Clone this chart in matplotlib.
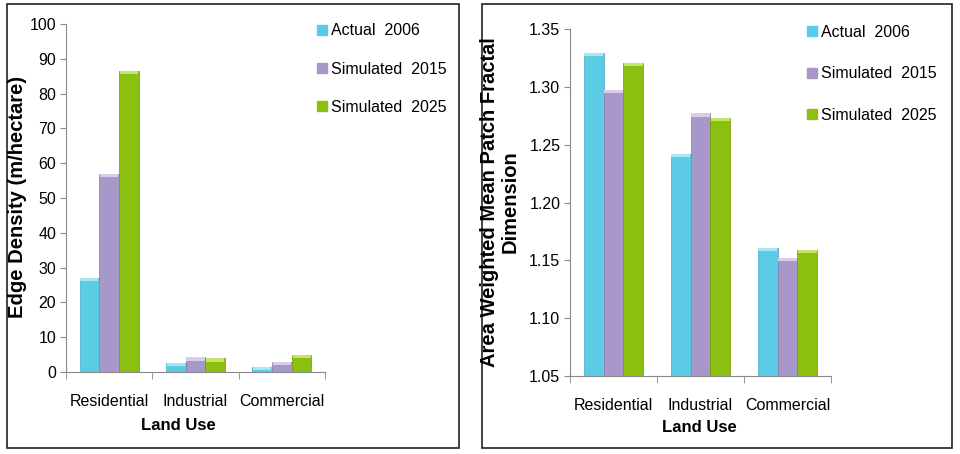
import matplotlib; matplotlib.use("Agg")
import matplotlib.pyplot as plt
import numpy as np
from matplotlib.patches import Rectangle
from matplotlib.lines import Line2D

plt.rcParams['font.family'] = ['Liberation Sans', 'DejaVu Sans']

land_use = ["Residential", "Industrial", "Commercial"]
series = ["Actual  2006", "Simulated  2015", "Simulated  2025"]
edge_density = [[27.0, 2.5, 1.5],
                [57.0, 4.2, 2.8],
                [86.5, 3.9, 5.0]]
fractal_dim = [[1.329, 1.242, 1.161],
               [1.297, 1.277, 1.152],
               [1.321, 1.273, 1.159]]
colors = ['#5ccbe6', '#a898ca', '#8bc010']
caps = ['#a8e8f6', '#d8cdea', '#c4e46a']
edges = ['#49aac4', '#8a7bb0', '#6f9a0a']

fig = plt.figure(figsize=(9.6, 4.54), dpi=100)
fig.patch.set_facecolor('white')
def px(x0, y0, x1, y1):
    return [x0/960, 1-y1/454, (x1-x0)/960, (y1-y0)/454]
for r in [(7, 4, 459, 448), (482, 4, 952, 448)]:
    b = px(*r)
    fig.add_artist(Rectangle((b[0], b[1]), b[2], b[3], fill=False, ec='#222222', lw=1.2,
                             transform=fig.transFigure))

def txt(x, y, s, **kw):
    fig.text(x/960, 1-y/454, s, ha='center', va='center', fontweight='bold', **kw)

def panel(rect, data, ylim, yticks, fmt, leg_anchor, spacing):
    ax = fig.add_axes(rect)
    x = np.arange(len(land_use)) + 0.5
    w = 0.229
    span = ylim[1] - ylim[0]
    cap = span * 0.009
    for i, vals in enumerate(data):
        pos = x + (i - 1) * w
        h = np.array(vals) - ylim[0]
        ax.bar(pos, h, w, bottom=ylim[0], color=colors[i], edgecolor=edges[i], lw=0.5, zorder=2)
        ax.bar(pos, cap, w * 0.92, bottom=np.array(vals) - cap, color=caps[i], lw=0, zorder=3)
    ax.set_xlim(0, 3)
    ax.set_ylim(*ylim)
    ax.set_yticks(yticks)
    ax.set_yticklabels([fmt.format(v) for v in yticks], fontsize=11.5)
    ax.set_xticks(x)
    ax.set_xticklabels(land_use, fontsize=11.5)
    ax.set_xticks([0, 1, 2, 3], minor=True)
    ax.tick_params(axis='x', which='major', length=0, pad=16)
    ax.tick_params(axis='x', which='minor', length=5, direction='out', color='#888888')
    ax.tick_params(axis='y', length=4, color='#888888', pad=3)
    for s in ['top', 'right']:
        ax.spines[s].set_visible(False)
    for s in ['left', 'bottom']:
        ax.spines[s].set_color('#888888')
    handles = [Line2D([0], [0], marker='s', ls='', ms=6.5, mfc=c, mec=c) for c in colors]
    ax.legend(handles, series, loc='upper left', bbox_to_anchor=leg_anchor, frameon=False,
              fontsize=11.5, handlelength=0.6, handletextpad=0.25, labelspacing=spacing,
              borderaxespad=0)
    return ax

panel(px(66, 24, 325, 372), edge_density, (0, 100), list(range(0, 101, 10)), "{:d}",
      (0.945, 1.02), 1.45)
panel(px(570, 29, 831, 376), fractal_dim, (1.05, 1.35),
      [1.05, 1.10, 1.15, 1.20, 1.25, 1.30, 1.35], "{:.2f}",
      (0.885, 1.03), 1.65)

txt(18, 197, "Edge Density (m/hectare)", rotation=90, fontsize=14.5)
txt(500, 202, "Area Weighted Mean Patch Fractal\nDimension", rotation=90, fontsize=14.5,
    linespacing=1.1)
txt(178, 426, "Land Use", fontsize=12)
txt(699, 427, "Land Use", fontsize=12)

fig.savefig("out.png", dpi=100, facecolor='white')
